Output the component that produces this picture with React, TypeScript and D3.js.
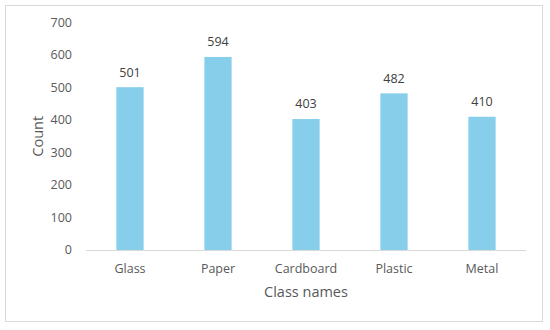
import React from "react";
import * as d3 from "d3";

const categories = ["Glass", "Paper", "Cardboard", "Plastic", "Metal"];
const counts = [501, 594, 403, 482, 410];
const yTicks = [0, 100, 200, 300, 400, 500, 600, 700];

export default function App() {
  const width = 550;
  const height = 330;
  const margin = { top: 22.5, right: 24, bottom: 80, left: 86 };
  const font = "'Open Sans', 'Noto Sans', sans-serif";
  const textColor = "#595959";

  const x = d3
    .scaleBand()
    .domain(categories)
    .range([margin.left, width - margin.right])
    .paddingInner(0.69)
    .paddingOuter(0.345);
  const y = d3
    .scaleLinear()
    .domain([0, 700])
    .range([height - margin.bottom, margin.top]);

  return (
    <svg
      width={width}
      height={height}
      style={{ position: "absolute", left: 0, top: 0 }}
      fontFamily={font}
    >
      <rect x={0} y={0} width={width} height={height} fill="#fff" />
      <rect
        x={5.5}
        y={5.5}
        width={537}
        height={316}
        fill="none"
        stroke="#d9d9d9"
      />
      {/* y tick labels */}
      {yTicks.map((t) => (
        <text
          key={t}
          x={72}
          y={y(t)}
          dy="0.35em"
          textAnchor="end"
          fontSize={12.5}
          fill={textColor}
        >
          {t}
        </text>
      ))}
      {/* bars */}
      {categories.map((c, i) => (
        <g key={c}>
          <rect
            x={x(c)}
            y={y(counts[i])}
            width={x.bandwidth()}
            height={y(0) - y(counts[i])}
            fill="#87ceeb"
          />
          <text
            x={x(c)! + x.bandwidth() / 2}
            y={y(counts[i]) - 15}
            dy="0.35em"
            textAnchor="middle"
            fontSize={12.5}
            fill="#404040"
          >
            {counts[i]}
          </text>
          <text
            x={x(c)! + x.bandwidth() / 2}
            y={269}
            dy="0.35em"
            textAnchor="middle"
            fontSize={12.5}
            fill={textColor}
          >
            {c}
          </text>
        </g>
      ))}
      {/* x axis line */}
      <line
        x1={margin.left}
        x2={width - margin.right}
        y1={y(0) + 0.5}
        y2={y(0) + 0.5}
        stroke="#d9d9d9"
      />
      <text
        x={(margin.left + width - margin.right) / 2}
        y={292}
        dy="0.35em"
        textAnchor="middle"
        fontSize={14.5}
        fill={textColor}
      >
        Class names
      </text>
      <text
        transform={`translate(38, ${(y(0) + y(700)) / 2}) rotate(-90)`}
        dy="0.35em"
        textAnchor="middle"
        fontSize={14.5}
        fill={textColor}
      >
        Count
      </text>
    </svg>
  );
}
